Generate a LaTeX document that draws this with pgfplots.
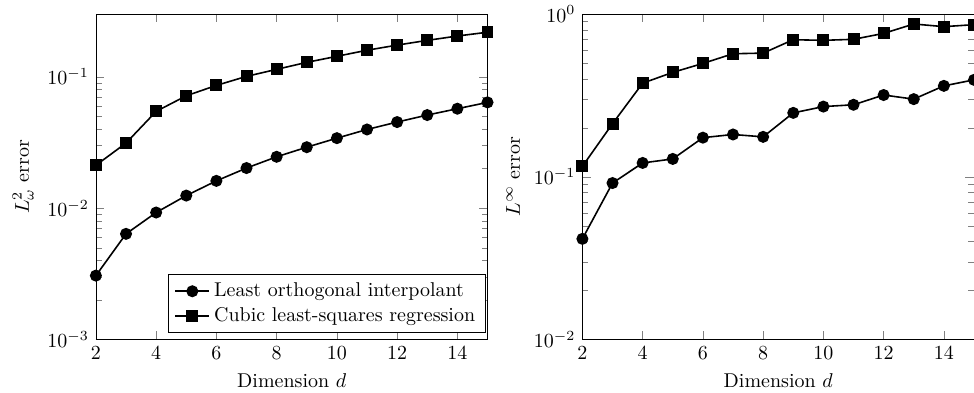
\documentclass[border=0pt]{standalone}
\usepackage{pgfplots}
\pgfplotsset{compat=1.18}
\begin{document}
\begin{tikzpicture}
\begin{axis}[name=left, ymode=log, width=196pt, height=163pt, scale only axis,
  xmin=2, xmax=15, xtick={2,4,...,14}, clip=false,
  xlabel={Dimension $d$},
  ymin=1e-3, ymax=0.3,
  ylabel={$L^2_\omega$ error},
  legend style={at={(0.995,0.02)}, anchor=south east, cells={anchor=west}},
]
\addplot[black, thick, mark size=2.6pt, mark=*] coordinates {(2,0.00307)(3,0.00638)(4,0.00927)(5,0.01247)(6,0.01614)(7,0.0202)(8,0.0246)(9,0.0291)(10,0.0341)(11,0.0397)(12,0.0452)(13,0.0511)(14,0.0571)(15,0.0638)};
\addlegendentry{Least orthogonal interpolant}
\addplot[black, thick, mark size=2.6pt, mark=square*] coordinates {(2,0.0212)(3,0.0313)(4,0.0545)(5,0.0716)(6,0.0859)(7,0.1006)(8,0.1138)(9,0.1286)(10,0.143)(11,0.159)(12,0.174)(13,0.189)(14,0.204)(15,0.218)};
\addlegendentry{Cubic least-squares regression}
\end{axis}
\begin{axis}[name=right, at={(243.5pt,0)}, ymode=log, width=196pt, height=163pt, scale only axis,
  xmin=2, xmax=15, xtick={2,4,...,14}, clip=false,
  xlabel={Dimension $d$},
  ymin=1e-2, ymax=1,
  ylabel={$L^\infty$ error},
]
\addplot[black, thick, mark size=2.6pt, mark=*] coordinates {(2,0.0416)(3,0.0916)(4,0.1217)(5,0.1288)(6,0.174)(7,0.182)(8,0.176)(9,0.247)(10,0.270)(11,0.277)(12,0.318)(13,0.300)(14,0.362)(15,0.394)};
\addplot[black, thick, mark size=2.6pt, mark=square*] coordinates {(2,0.116)(3,0.212)(4,0.376)(5,0.438)(6,0.497)(7,0.570)(8,0.575)(9,0.695)(10,0.689)(11,0.699)(12,0.760)(13,0.868)(14,0.836)(15,0.860)};
\end{axis}
\pgfresetboundingbox
\path[use as bounding box] ([xshift=-48pt,yshift=-26.5pt]left.south west) rectangle ([yshift=7pt]right.north east);
\end{tikzpicture}
\end{document}
